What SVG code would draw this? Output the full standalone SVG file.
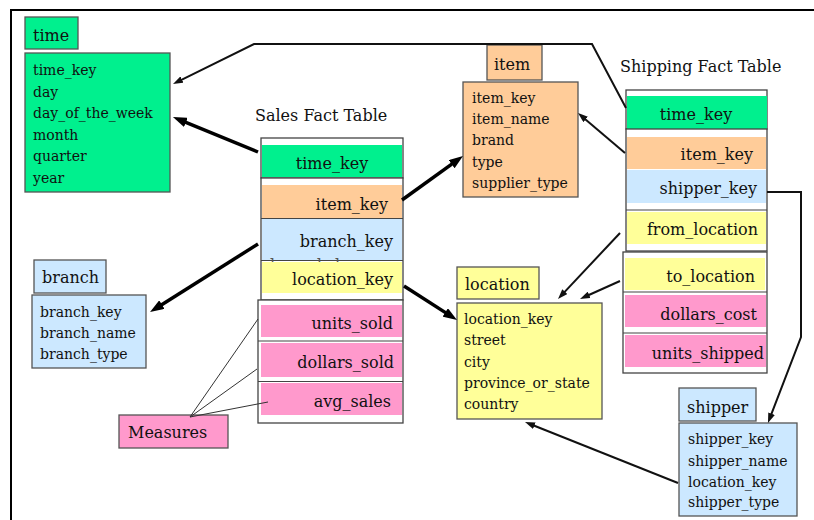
<svg xmlns="http://www.w3.org/2000/svg" width="814" height="520" viewBox="0 0 814 520">
<style>
text{font-family:"DejaVu Serif","Liberation Serif",serif;fill:#111}
.a{font-size:14px}
.b{font-size:16px}
.e{text-anchor:end}
.m{text-anchor:middle}
.box{stroke:#555;stroke-width:1.3}
.frm{fill:#fff;stroke:#444;stroke-width:1.3}
.sep{stroke:#444;stroke-width:1.2}
.g{fill:#00F08E}
.o{fill:#FFCC99}
.bl{fill:#CCE8FF}
.y{fill:#FFFF99}
.p{fill:#FF99CC}
.thick{fill:none;stroke:#000;stroke-width:3.5}
.thin{fill:none;stroke:#111;stroke-width:2}
.meas{fill:none;stroke:#333;stroke-width:1}
</style>
<defs>
<marker id="ah" viewBox="0 0 14 10" markerWidth="14" markerHeight="10" refX="4" refY="5" orient="auto" markerUnits="userSpaceOnUse">
<path d="M0,0 L14,5 L0,10 Z" fill="#000"/>
</marker>
<marker id="at" viewBox="0 0 10 7" markerWidth="10" markerHeight="7" refX="4" refY="3.5" orient="auto" markerUnits="userSpaceOnUse">
<path d="M0,0 L10,3.5 L0,7 Z" fill="#111"/>
</marker>
</defs>
<rect width="814" height="520" fill="#fff"/>
<path d="M11,520 L11,10 L814,10" fill="none" stroke="#000" stroke-width="2"/>

<g id="time">
<rect class="box g" x="25" y="17" width="53" height="32"/>
<text class="b" x="33" y="41">time</text>
<rect class="box g" x="25" y="53" width="145" height="139"/>
<text class="a" x="33" y="75">time_key</text>
<text class="a" x="33" y="96.5">day</text>
<text class="a" x="33" y="118">day_of_the_week</text>
<text class="a" x="33" y="139.5">month</text>
<text class="a" x="33" y="161">quarter</text>
<text class="a" x="33" y="182.5">year</text>
</g>

<g id="item">
<rect class="box o" x="487" y="45" width="55" height="35"/>
<text class="b" x="494" y="70">item</text>
<rect class="box o" x="463" y="82" width="115" height="115"/>
<text class="a" x="472" y="103">item_key</text>
<text class="a" x="472" y="124">item_name</text>
<text class="a" x="472" y="145">brand</text>
<text class="a" x="472" y="166.5">type</text>
<text class="a" x="472" y="187.5">supplier_type</text>
</g>

<g id="branch">
<rect class="box bl" x="34" y="260" width="72" height="33"/>
<text class="b" x="42" y="283">branch</text>
<rect class="box bl" x="32" y="295" width="114" height="73"/>
<text class="a" x="40" y="317">branch_key</text>
<text class="a" x="40" y="338">branch_name</text>
<text class="a" x="40" y="358.5">branch_type</text>
</g>

<g id="location">
<rect class="box y" x="457" y="267" width="82" height="32"/>
<text class="b" x="465" y="290">location</text>
<rect class="box y" x="457" y="303" width="145" height="116"/>
<text class="a" x="464" y="324">location_key</text>
<text class="a" x="464" y="345">street</text>
<text class="a" x="464" y="366.5">city</text>
<text class="a" x="464" y="388">province_or_state</text>
<text class="a" x="464" y="409">country</text>
</g>

<g id="shipper">
<rect class="box bl" x="679" y="388" width="77" height="33"/>
<text class="b" x="687" y="413">shipper</text>
<rect class="box bl" x="679" y="423" width="118" height="93"/>
<text class="a" x="688" y="444">shipper_key</text>
<text class="a" x="688" y="465.5">shipper_name</text>
<text class="a" x="688" y="486.5">location_key</text>
<text class="a" x="688" y="507">shipper_type</text>
</g>

<g id="measures">
<rect class="box p" x="119" y="415" width="109" height="33"/>
<text class="b" x="128" y="438">Measures</text>
</g>

<g id="sales-fact-table">
<text class="b" x="255" y="121">Sales Fact Table</text>
<rect class="frm" x="261" y="138" width="142" height="40"/>
<rect class="g" x="262" y="145" width="140" height="32"/>
<text class="b m" x="332" y="169">time_key</text>
<rect class="frm" x="261" y="178" width="142" height="122"/>
<rect class="o" x="262" y="185" width="140" height="33"/>
<rect class="bl" x="262" y="219" width="140" height="41"/>
<line class="sep" x1="261" y1="218.5" x2="403" y2="218.5"/>
<line class="sep" x1="261" y1="260.5" x2="403" y2="260.5"/>
<text class="b e" x="388" y="210">item_key</text>
<text class="b e" x="393" y="247">branch_key</text>
<text class="b" x="270" y="270.5" fill="#555" style="fill:#555">branch_key</text>
<rect class="y" x="262" y="262" width="140" height="31"/>
<text class="b e" x="393" y="285">location_key</text>
<rect class="frm" x="258" y="300" width="145" height="123"/>
<rect class="p" x="261" y="305" width="141" height="32"/>
<line class="sep" x1="258" y1="341" x2="403" y2="341"/>
<rect class="p" x="261" y="343" width="141" height="34"/>
<line class="sep" x1="258" y1="381.5" x2="403" y2="381.5"/>
<rect class="p" x="261" y="383" width="141" height="32"/>
<text class="b e" x="393" y="329">units_sold</text>
<text class="b e" x="394" y="368">dollars_sold</text>
<text class="b e" x="391" y="407">avg_sales</text>
</g>

<g id="shipping-fact-table">
<text class="b" x="620" y="72">Shipping Fact Table</text>
<rect class="frm" x="626" y="90" width="141" height="39"/>
<rect class="g" x="627" y="96" width="140" height="33"/>
<text class="b m" x="696" y="120">time_key</text>
<rect class="frm" x="626" y="129" width="141" height="122"/>
<rect class="o" x="627" y="137" width="139" height="32"/>
<rect class="bl" x="627" y="170" width="139" height="33"/>
<line class="sep" x1="626" y1="210" x2="767" y2="210"/>
<rect class="y" x="627" y="212" width="139" height="32"/>
<text class="b e" x="753" y="160">item_key</text>
<text class="b e" x="757" y="194">shipper_key</text>
<text class="b e" x="758" y="235">from_location</text>
<rect class="frm" x="623" y="252" width="144" height="121"/>
<rect class="y" x="625" y="258" width="140" height="32"/>
<line class="sep" x1="623" y1="292" x2="767" y2="292"/>
<rect class="p" x="625" y="295" width="141" height="32"/>
<line class="sep" x1="623" y1="333" x2="767" y2="333"/>
<rect class="p" x="625" y="335" width="141" height="32"/>
<text class="b e" x="755" y="282">to_location</text>
<text class="b e" x="757" y="320">dollars_cost</text>
<text class="b e" x="764" y="359">units_shipped</text>
</g>

<g id="connectors">
<line class="thick" x1="258" y1="152" x2="182.2" y2="120.8" marker-end="url(#ah)"/>
<line class="thick" x1="402" y1="200" x2="454.9" y2="161.9" marker-end="url(#ah)"/>
<line class="thick" x1="258" y1="244" x2="158.5" y2="306.7" marker-end="url(#ah)"/>
<line class="thick" x1="404" y1="286" x2="448.6" y2="314.6" marker-end="url(#ah)"/>
<polyline class="thin" points="626,108 592,44 254,44 178.4,81.3" marker-end="url(#at)"/>
<line class="thin" x1="625" y1="153" x2="582.6" y2="116.9" marker-end="url(#at)"/>
<polyline class="thin" points="767,192 801,192 801,337 770.1,417.4" marker-end="url(#at)"/>
<line class="thin" x1="620" y1="233" x2="562.1" y2="294.6" marker-end="url(#at)"/>
<line class="thin" x1="620" y1="281" x2="585.5" y2="296.5" marker-end="url(#at)"/>
<line class="thin" x1="678" y1="483" x2="530.6" y2="424.2" marker-end="url(#at)"/>
<line class="meas" x1="190" y1="417" x2="258" y2="319"/>
<line class="meas" x1="190" y1="417" x2="257" y2="369"/>
<line class="meas" x1="190" y1="417" x2="268" y2="402"/>
</g>
</svg>
